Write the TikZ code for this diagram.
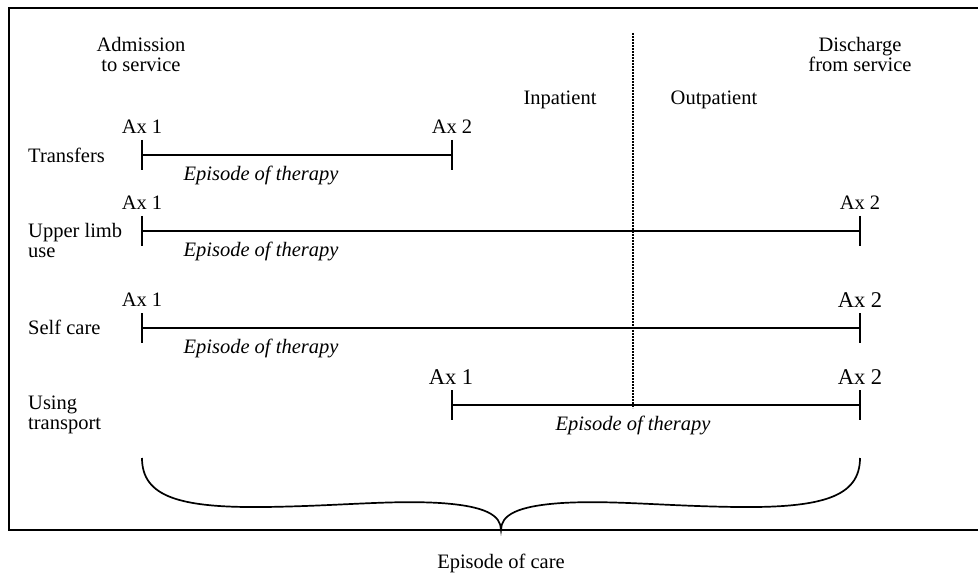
\documentclass[tikz,border=0pt]{standalone}
\usepackage{fontspec}
\setmainfont{Liberation Serif}
\begin{document}
\begin{tikzpicture}[x=1pt,y=-1pt,
  lbl/.style={font=\fontsize{20.5}{20}\selectfont, inner sep=0pt, align=center},
  rowlbl/.style={lbl, anchor=west, align=left},
  axs/.style={font=\fontsize{20.5}{20}\selectfont, inner sep=0pt},
  axb/.style={font=\fontsize{22.5}{22}\selectfont, inner sep=0pt},
  ep/.style={font=\fontsize{20.5}{20}\selectfont\itshape, inner sep=0pt},
  bar/.style={line width=1.7pt},
  tickmark/.style={line width=1.9pt},
  frame/.style={line width=2.2pt},
  divider/.style={line width=1.6pt, dash pattern=on 1.6pt off 1.4pt},
  bracepath/.style={line width=1.7pt}
]
\useasboundingbox (0,0) rectangle (978,575);

% frame (right side runs off the picture)
\draw[frame] (978,8) -- (9,8) -- (9,530) -- (978,530);

% headers
\node[lbl] (adm) at (141,54) {Admission\\to service};
\node[lbl] (dis) at (860,54) {Discharge\\from service};
\node[lbl] (inp) at (560,100) {Inpatient};
\node[lbl] (outp) at (714,100) {Outpatient};

% divider
\coordinate (dtop) at (633,33);
\coordinate (dbot) at (633,408);
\draw[divider] (dtop) -- (dbot);

% row labels
\node[rowlbl] (r1) at (28,155) {Transfers};
\node[rowlbl] (r2) at (28,240) {Upper limb\\use};
\node[rowlbl] (r3) at (28,327) {Self care};
\node[rowlbl] (r4) at (28,415) {Using\\transport};

% row 1
\coordinate (a1) at (142,155); \coordinate (b1) at (452,155);
\node[axs] (a1t) at (142,127) {Ax 1};
\node[axs] (b1t) at (452,127) {Ax 2};
\draw[bar] (a1) -- (b1);
\draw[tickmark] ([yshift=15pt]a1) -- ([yshift=-15pt]a1);
\draw[tickmark] ([yshift=15pt]b1) -- ([yshift=-15pt]b1);
\node[ep] (e1) at (261,175) {Episode of therapy};

% row 2
\coordinate (a2) at (142,231); \coordinate (b2) at (860,231);
\node[axs] (a2t) at (142,203) {Ax 1};
\node[axs] (b2t) at (860,203) {Ax 2};
\draw[bar] (a2) -- (b2);
\draw[tickmark] ([yshift=15pt]a2) -- ([yshift=-15pt]a2);
\draw[tickmark] ([yshift=15pt]b2) -- ([yshift=-15pt]b2);
\node[ep] (e2) at (261,251) {Episode of therapy};

% row 3
\coordinate (a3) at (142,328); \coordinate (b3) at (860,328);
\node[axs] (a3t) at (142,300) {Ax 1};
\node[axb] (b3t) at (860,300) {Ax 2};
\draw[bar] (a3) -- (b3);
\draw[tickmark] ([yshift=15pt]a3) -- ([yshift=-15pt]a3);
\draw[tickmark] ([yshift=15pt]b3) -- ([yshift=-15pt]b3);
\node[ep] (e3) at (261,348) {Episode of therapy};

% row 4
\coordinate (a4) at (452,405); \coordinate (b4) at (860,405);
\node[axb] (a4t) at (451,377) {Ax 1};
\node[axb] (b4t) at (860,377) {Ax 2};
\draw[bar] (a4) -- (b4);
\draw[tickmark] ([yshift=15pt]a4) -- ([yshift=-15pt]a4);
\draw[tickmark] ([yshift=15pt]b4) -- ([yshift=-15pt]b4);
\node[ep] (e4) at (633,425) {Episode of therapy};

% brace
\coordinate (bl) at (142,458);
\coordinate (br) at (860,458);
\coordinate (btip) at (501,530);
\draw[bracepath] (bl) .. controls (142,497) and (180,508) .. (265,507)
  .. controls (340,506) and (390,500) .. (440,503)
  .. controls (485,506) and (501,515) .. (btip)
  .. controls (501,515) and (517,506) .. (562,503)
  .. controls (612,500) and (662,506) .. (737,507)
  .. controls (822,508) and (860,497) .. (br);
\node[lbl] (care) at (501,563) {Episode of care};
\end{tikzpicture}
\end{document}
